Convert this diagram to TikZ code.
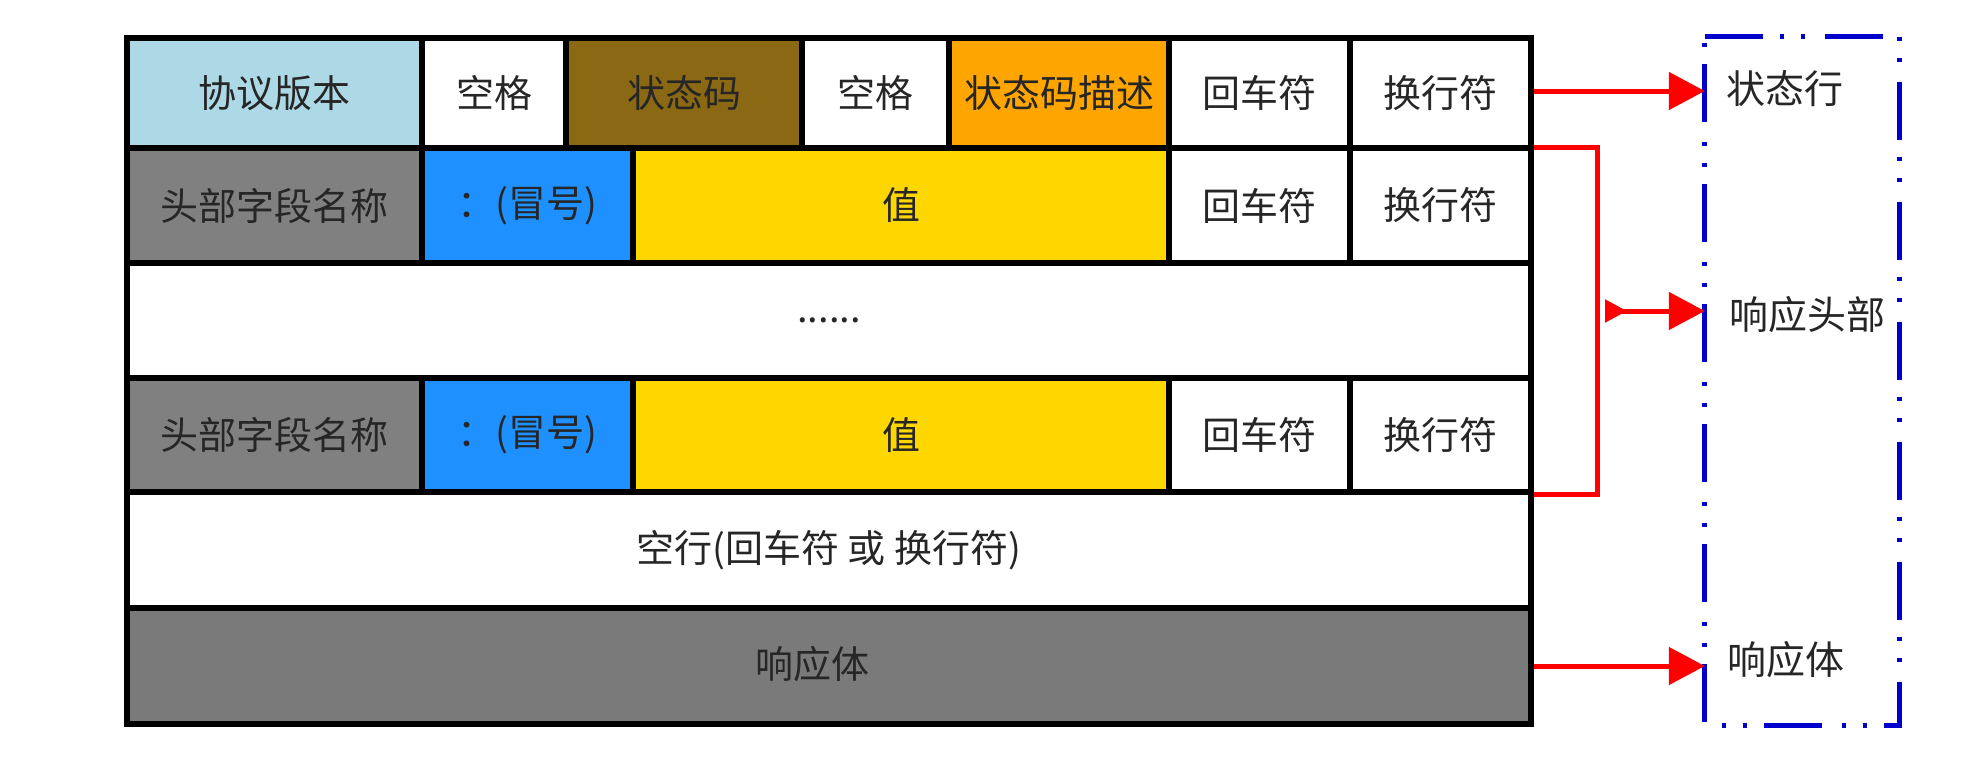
\documentclass[tikz,border=0pt]{standalone}
\usepackage{fontspec}
\setmainfont{Noto Sans CJK SC}
\usetikzlibrary{arrows.meta}
\definecolor{lbcol}{HTML}{ADD8E6}
\definecolor{browncol}{HTML}{8B6914}
\definecolor{orangecol}{HTML}{FFA500}
\definecolor{graycol}{HTML}{808080}
\definecolor{dkgraycol}{HTML}{7A7A7A}
\definecolor{bluecellcol}{HTML}{1E90FF}
\definecolor{goldcol}{HTML}{FFD700}
\definecolor{txtcol}{HTML}{262626}
\definecolor{boxblue}{HTML}{0000CC}
\definecolor{arrred}{HTML}{FF0000}
\begin{document}
\begin{tikzpicture}[x=1pt,y=-1pt,
  cell/.style={draw=black, line width=5.5pt, inner sep=0pt, text=txtcol,
    font=\fontsize{38pt}{44pt}\selectfont},
  lbl/.style={inner sep=0pt, anchor=west, text=txtcol,
    font=\fontsize{39pt}{44pt}\selectfont},
  redline/.style={draw=arrred, line width=5pt},
  redarrow/.style={redline, -{Triangle[length=36pt,width=37pt]}},
  grpbox/.style={draw=boxblue, line width=5pt,
    dash pattern=on 58pt off 17pt on 4pt off 17pt on 4pt off 20pt}]
\useasboundingbox (0,0) rectangle (1965,782);
\fill[white] (0,0) rectangle (1965,782);
% row 1
\node[cell, fill=lbcol, minimum width=295pt, minimum height=110pt] (r1a) at (274.5,93) {协议版本};
\node[cell, fill=white, minimum width=144pt, minimum height=110pt] (r1b) at (494,93) {空格};
\node[cell, fill=browncol, minimum width=236pt, minimum height=110pt] (r1c) at (684,93) {状态码};
\node[cell, fill=white, minimum width=147pt, minimum height=110pt] (r1d) at (875.5,93) {空格};
\node[cell, fill=orangecol, minimum width=220pt, minimum height=110pt] (r1e) at (1059,93) {状态码描述};
\node[cell, fill=white, minimum width=181pt, minimum height=110pt] (r1f) at (1259.5,93) {回车符};
\node[cell, fill=white, minimum width=181pt, minimum height=110pt] (r1g) at (1440.5,93) {换行符};
% row 2
\node[cell, fill=graycol, minimum width=295pt, minimum height=115pt] (r2a) at (274.5,205.5) {头部字段名称};
\node[cell, fill=bluecellcol, minimum width=211pt, minimum height=115pt] (r2b) at (527.5,205.5) {：(冒号)};
\node[cell, fill=goldcol, minimum width=536pt, minimum height=115pt] (r2c) at (901,205.5) {值};
\node[cell, fill=white, minimum width=181pt, minimum height=115pt] (r2d) at (1259.5,205.5) {回车符};
\node[cell, fill=white, minimum width=181pt, minimum height=115pt] (r2e) at (1440.5,205.5) {换行符};
% row 3
\node[cell, fill=white, minimum width=1404pt, minimum height=115pt] (r3) at (829,320.5) {......};
% row 4
\node[cell, fill=graycol, minimum width=295pt, minimum height=114pt] (r4a) at (274.5,435) {头部字段名称};
\node[cell, fill=bluecellcol, minimum width=211pt, minimum height=114pt] (r4b) at (527.5,435) {：(冒号)};
\node[cell, fill=goldcol, minimum width=536pt, minimum height=114pt] (r4c) at (901,435) {值};
\node[cell, fill=white, minimum width=181pt, minimum height=114pt] (r4d) at (1259.5,435) {回车符};
\node[cell, fill=white, minimum width=181pt, minimum height=114pt] (r4e) at (1440.5,435) {换行符};
% row 5
\node[cell, fill=white, minimum width=1404pt, minimum height=116pt] (r5) at (829,550) {空行(回车符 或 换行符)};
% row 6
\node[cell, fill=dkgraycol, minimum width=1404pt, minimum height=116pt] (r6) at (829,666) {};
\node[inner sep=0pt, text=txtcol, font=\fontsize{38pt}{44pt}\selectfont] (bodytxt) at (812,664) {响应体};
% group box (drawn clockwise from its top-left corner)
\node[minimum width=194pt, minimum height=688pt, inner sep=0pt] (grp) at (1802,381) {};
\draw[grpbox] (grp.north west) -- (grp.north east) -- (grp.south east) -- (grp.south west) -- cycle;
\node[lbl] (lstatus) at (1726,89) {状态行};
\node[lbl] (lheader) at (1729,315) {响应头部};
\node[lbl] (lbody) at (1727,660) {响应体};
% connectors
\draw[redarrow] ([yshift=2pt]r1g.east) -- ([yshift=2pt]r1g.east -| grp.west);
\draw[redline] ([yshift=-2pt]r2e.north east) -- ++(64,0) |- (r4e.south east);
\coordinate (hdtail) at (1605,311);
\draw[redline, {Triangle[reversed,length=22pt,width=22pt]}-{Triangle[length=36pt,width=37pt]}] (hdtail) -- (hdtail -| grp.west);
\draw[redarrow] (r6.east) -- (r6.east -| grp.west);
\end{tikzpicture}
\end{document}
